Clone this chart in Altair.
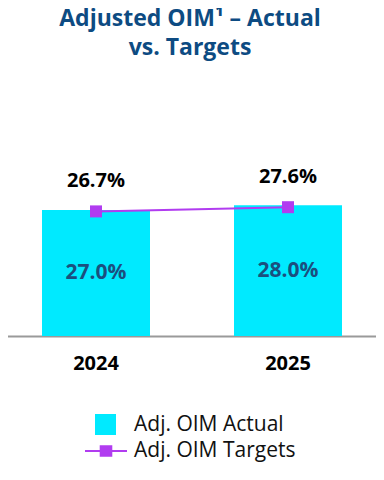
import altair as alt
import pandas as pd

years = ["2024", "2025"]
actual = [27.0, 28.0]
targets = [26.7, 27.6]
actual_labels = ["27.0%", "28.0%"]
target_labels = ["26.7%", "27.6%"]
series_actual = "Adj. OIM Actual"
series_target = "Adj. OIM Targets"

CYAN = "#00eaff"
PURPLE = "#b13cf0"
NAVY = "#0d4b82"
LABEL_BLUE = "#1b4f7e"
FONT = "Open Sans"

df = pd.DataFrame({
    "year": years,
    "actual": actual,
    "target": targets,
    "actual_label": actual_labels,
    "target_label": target_labels,
    "sa": [series_actual] * len(years),
    "st": [series_target] * len(years),
})

x_enc = alt.X(
    "year:N",
    title=None,
    scale=alt.Scale(range=[-8, 376], paddingInner=0.4375, paddingOuter=0.21875),
    axis=alt.Axis(
        labelAngle=0, labelFontSize=20, labelFontWeight="bold", labelColor="#000000",
        labelFont=FONT, ticks=False, domainColor="#9a9a9a", domainWidth=2,
        labelPadding=17, grid=False,
    ),
)
y_scale = alt.Scale(domain=[0, 60])

base = alt.Chart(df)

bars = base.mark_bar().encode(
    x=x_enc,
    y=alt.Y("actual:Q", scale=y_scale, axis=None),
    fill=alt.Fill(
        "sa:N",
        scale=alt.Scale(range=[CYAN]),
        legend=alt.Legend(
            orient="none", legendX=87, legendY=358, title=None, symbolType="square",
            symbolSize=441, labelFontSize=21, labelFont=FONT, labelColor="#111111",
            labelOffset=18, padding=0, symbolStrokeWidth=0, labelLimit=300,
        ),
    ),
)

bar_text = base.transform_calculate(mid="datum.actual / 2").mark_text(
    fontSize=21, fontWeight="bold", color=LABEL_BLUE, font=FONT, baseline="middle"
).encode(
    x=x_enc,
    y=alt.Y("mid:Q", scale=y_scale, axis=None),
    text="actual_label:N",
)

line = base.mark_line(color=PURPLE, strokeWidth=2).encode(
    x=x_enc,
    y=alt.Y("target:Q", scale=y_scale, axis=None),
)

legend_path = "M-1,-0.05H1V0.05H-1Z M-0.3,-0.27H0.3V0.27H-0.3Z"
points = base.mark_point(filled=True, shape="square", size=144, opacity=1).encode(
    x=x_enc,
    y=alt.Y("target:Q", scale=y_scale, axis=None),
    color=alt.Color(
        "st:N",
        scale=alt.Scale(range=[PURPLE]),
        legend=alt.Legend(
            orient="none", legendX=77, legendY=374, title=None, symbolType=legend_path,
            symbolSize=1764, labelFontSize=21, labelFont=FONT, labelColor="#111111",
            labelOffset=7, padding=0, symbolStrokeWidth=0, symbolOpacity=1, labelLimit=300,
        ),
    ),
)

target_text = base.mark_text(
    fontSize=20, fontWeight="bold", color="#000000", font=FONT, baseline="middle", dy=-30
).encode(
    x=x_enc,
    y=alt.Y("target:Q", scale=y_scale, axis=None),
    text="target_label:N",
)

chart = alt.layer(bars, bar_text, line, points, target_text).resolve_scale(
    fill="independent", color="independent"
).properties(
    width=368,
    height=280,
    padding={"left": 0, "top": 48, "right": 0, "bottom": 128},
    autosize=alt.AutoSizeParams(type="none"),
    title=alt.TitleParams(
        ["Adjusted OIM¹ – Actual", "vs. Targets"],
        fontSize=23, fontWeight="bold", color=NAVY, font=FONT,
        lineHeight=29, anchor="middle", dx=-2, offset=-4,
    ),
).configure_view(stroke=None)

chart.save("out.html", embed_options={"renderer": "svg", "actions": False})
